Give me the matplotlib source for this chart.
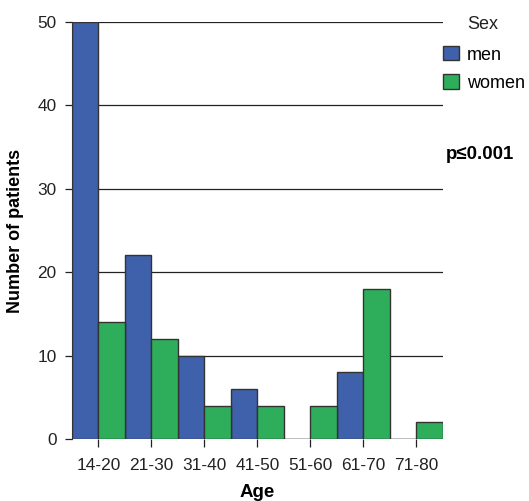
import matplotlib

matplotlib.use("Agg")
import matplotlib.pyplot as plt
import numpy as np
from matplotlib.patches import Patch

plt.rcParams["font.family"] = ["Liberation Sans", "DejaVu Sans"]

age_groups = ["14-20", "21-30", "31-40", "41-50", "51-60", "61-70", "71-80"]
men = [50, 22, 10, 6, 0, 8, 0]
women = [14, 12, 4, 4, 4, 18, 2]

BLUE = "#3f60aa"
GREEN = "#2eae5a"
EDGE = "#333333"

fig = plt.figure(figsize=(5.29, 5.01), dpi=100)
ax = fig.add_axes([0.136, 0.124, 0.701, 0.832])

x = np.arange(len(age_groups))
w = 0.5
ax.bar(x - w / 2, men, width=w, color=BLUE, edgecolor=EDGE, linewidth=1.0, zorder=3)
ax.bar(x + w / 2, women, width=w, color=GREEN, edgecolor=EDGE, linewidth=1.0, zorder=3)

ax.set_xlim(-0.5, len(age_groups) - 0.5)
ax.set_ylim(0, 50)
ax.set_yticks([0, 10, 20, 30, 40, 50])
ax.set_xticks(x)
ax.set_xticklabels(age_groups)
ax.yaxis.grid(True, color="#222222", linewidth=0.9, zorder=0)
ax.set_axisbelow(True)

for s in ["top", "right", "bottom"]:
    ax.spines[s].set_visible(False)
ax.spines["left"].set_color("#333333")
ax.spines["left"].set_zorder(4)

ax.tick_params(axis="y", length=5, width=0.9, pad=6, labelsize=12.4, colors="#222222")
ax.tick_params(axis="x", length=6, width=0.9, pad=8, labelsize=12.4, colors="#222222")

ax.set_xlabel("Age", fontsize=13.5, fontweight="bold", labelpad=8)
ax.set_ylabel("Number of patients", fontsize=13, fontweight="bold", labelpad=10)

handles = [Patch(facecolor=BLUE, edgecolor=EDGE, label="men"),
           Patch(facecolor=GREEN, edgecolor=EDGE, label="women")]
leg = fig.legend(handles=handles, loc="upper left",
                 bbox_to_anchor=(0.838, 0.908), frameon=False, fontsize=13,
                 handlelength=0.85, handleheight=0.85,
                 handletextpad=0.45, labelspacing=0.6, borderaxespad=0,
                 borderpad=0)
fig.text(0.884, 0.952, "Sex", fontsize=13, ha="left", va="center", color="#222222")

fig.text(0.843, 0.692, "p\u22640.001", fontsize=13.4, fontweight="bold", ha="left", va="center")

fig.savefig("out.png", dpi=100)
